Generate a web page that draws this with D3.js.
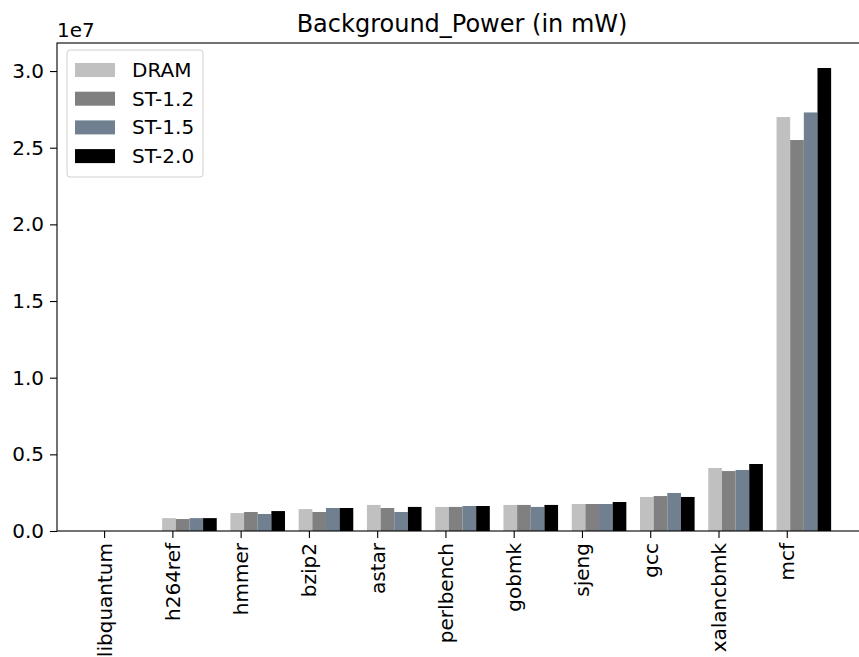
<!DOCTYPE html>
<html>
<head>
<meta charset="utf-8">
<script src="https://cdn.jsdelivr.net/npm/d3@7"></script>
<style>
  body { margin: 0; background: #fff; }
  text { font-family: "DejaVu Sans", sans-serif; }
</style>
</head>
<body>
<div id="chart"></div>
<script>
// Dados (em unidades de 1e6 mW)
const benchmarks = ["libquantum", "h264ref", "hmmer", "bzip2", "astar", "perlbench", "gobmk", "sjeng", "gcc", "xalancbmk", "mcf"];
const seriesNames = ["DRAM", "ST-1.2", "ST-1.5", "ST-2.0"];
const seriesColors = ["#c0c0c0", "#808080", "#708090", "#000000"];
const dram  = [0.0, 0.84, 1.17, 1.43, 1.70, 1.57, 1.70, 1.76, 2.22, 4.11, 27.0];
const st12  = [0.0, 0.78, 1.24, 1.24, 1.50, 1.57, 1.70, 1.76, 2.28, 3.91, 25.5];
const st15  = [0.0, 0.84, 1.11, 1.50, 1.24, 1.63, 1.57, 1.76, 2.48, 3.98, 27.3];
const st20  = [0.0, 0.84, 1.30, 1.50, 1.57, 1.63, 1.70, 1.89, 2.22, 4.37, 30.2];
const yTicks = [0, 0.5, 1.0, 1.5, 2.0, 2.5, 3.0];

const allSeries = [dram, st12, st15, st20];

const width = 859;
const height = 657;
const margin = { top: 43, right: -9, bottom: 126, left: 57 };
const plotW = width - margin.left - margin.right;
const plotH = height - margin.top - margin.bottom;

const svg = d3.select("#chart")
    .append("svg")
    .attr("width", width)
    .attr("height", height);

const g = svg.append("g")
    .attr("transform", `translate(${margin.left},${margin.top})`);

// Escala X contínua (como no matplotlib)
const barW = 0.2;
const xScale = d3.scaleLinear()
    .domain([-0.69, 11.19])
    .range([0, plotW]);

// Escala Y (em 1e7)
const yScale = d3.scaleLinear()
    .domain([0, 3.183])
    .range([plotH, 0]);

// Barras
allSeries.forEach((vals, si) => {
    g.selectAll(".bar-" + si)
        .data(vals)
        .enter()
        .append("rect")
        .attr("x", (d, i) => xScale(i - 0.15 + si * barW))
        .attr("y", d => yScale(d / 10))
        .attr("width", xScale(barW) - xScale(0))
        .attr("height", d => plotH - yScale(d / 10))
        .attr("fill", seriesColors[si]);
});

// Eixo X
const xAxis = g.append("g")
    .attr("transform", `translate(0,${plotH})`)
    .call(d3.axisBottom(xScale)
        .tickValues(d3.range(benchmarks.length))
        .tickFormat(i => benchmarks[i])
        .tickSize(7)
        .tickSizeOuter(0));
xAxis.select(".domain").remove();
xAxis.selectAll("line").attr("stroke", "#000").attr("stroke-width", 1.1);
xAxis.selectAll("text")
    .attr("font-size", 20)
    .attr("fill", "#000")
    .attr("transform", "rotate(-90)")
    .attr("text-anchor", "end")
    .attr("x", -12)
    .attr("y", 0)
    .attr("dy", "0.35em");

// Eixo Y
const yAxis = g.append("g")
    .call(d3.axisLeft(yScale)
        .tickValues(yTicks)
        .tickFormat(d3.format(".1f"))
        .tickSize(7)
        .tickSizeOuter(0));
yAxis.select(".domain").remove();
yAxis.selectAll("line").attr("stroke", "#000").attr("stroke-width", 1.1);
yAxis.selectAll("text")
    .attr("font-size", 20)
    .attr("fill", "#000")
    .attr("x", -13);

// Moldura
g.append("rect")
    .attr("x", 0).attr("y", 0)
    .attr("width", plotW).attr("height", plotH)
    .attr("fill", "none")
    .attr("stroke", "#000")
    .attr("stroke-width", 1.1);

// Multiplicador
svg.append("text")
    .attr("x", margin.left)
    .attr("y", 37)
    .attr("font-size", 20)
    .text("1e7");

// Título
svg.append("text")
    .attr("x", 462)
    .attr("y", 32)
    .attr("text-anchor", "middle")
    .attr("font-size", 24)
    .text("Background_Power (in mW)");

// Legenda
const legend = svg.append("g").attr("transform", "translate(67,50)");
legend.append("rect")
    .attr("width", 136).attr("height", 127)
    .attr("rx", 3)
    .attr("fill", "#fff")
    .attr("fill-opacity", 0.8)
    .attr("stroke", "#d0d0d0");
seriesNames.forEach((name, i) => {
    const row = legend.append("g").attr("transform", `translate(8,${13 + i * 28.7})`);
    row.append("rect")
        .attr("width", 40).attr("height", 14)
        .attr("fill", seriesColors[i]);
    row.append("text")
        .attr("x", 57).attr("y", 7)
        .attr("dy", "0.35em")
        .attr("font-size", 20)
        .text(name);
});
</script>
</body>
</html>
